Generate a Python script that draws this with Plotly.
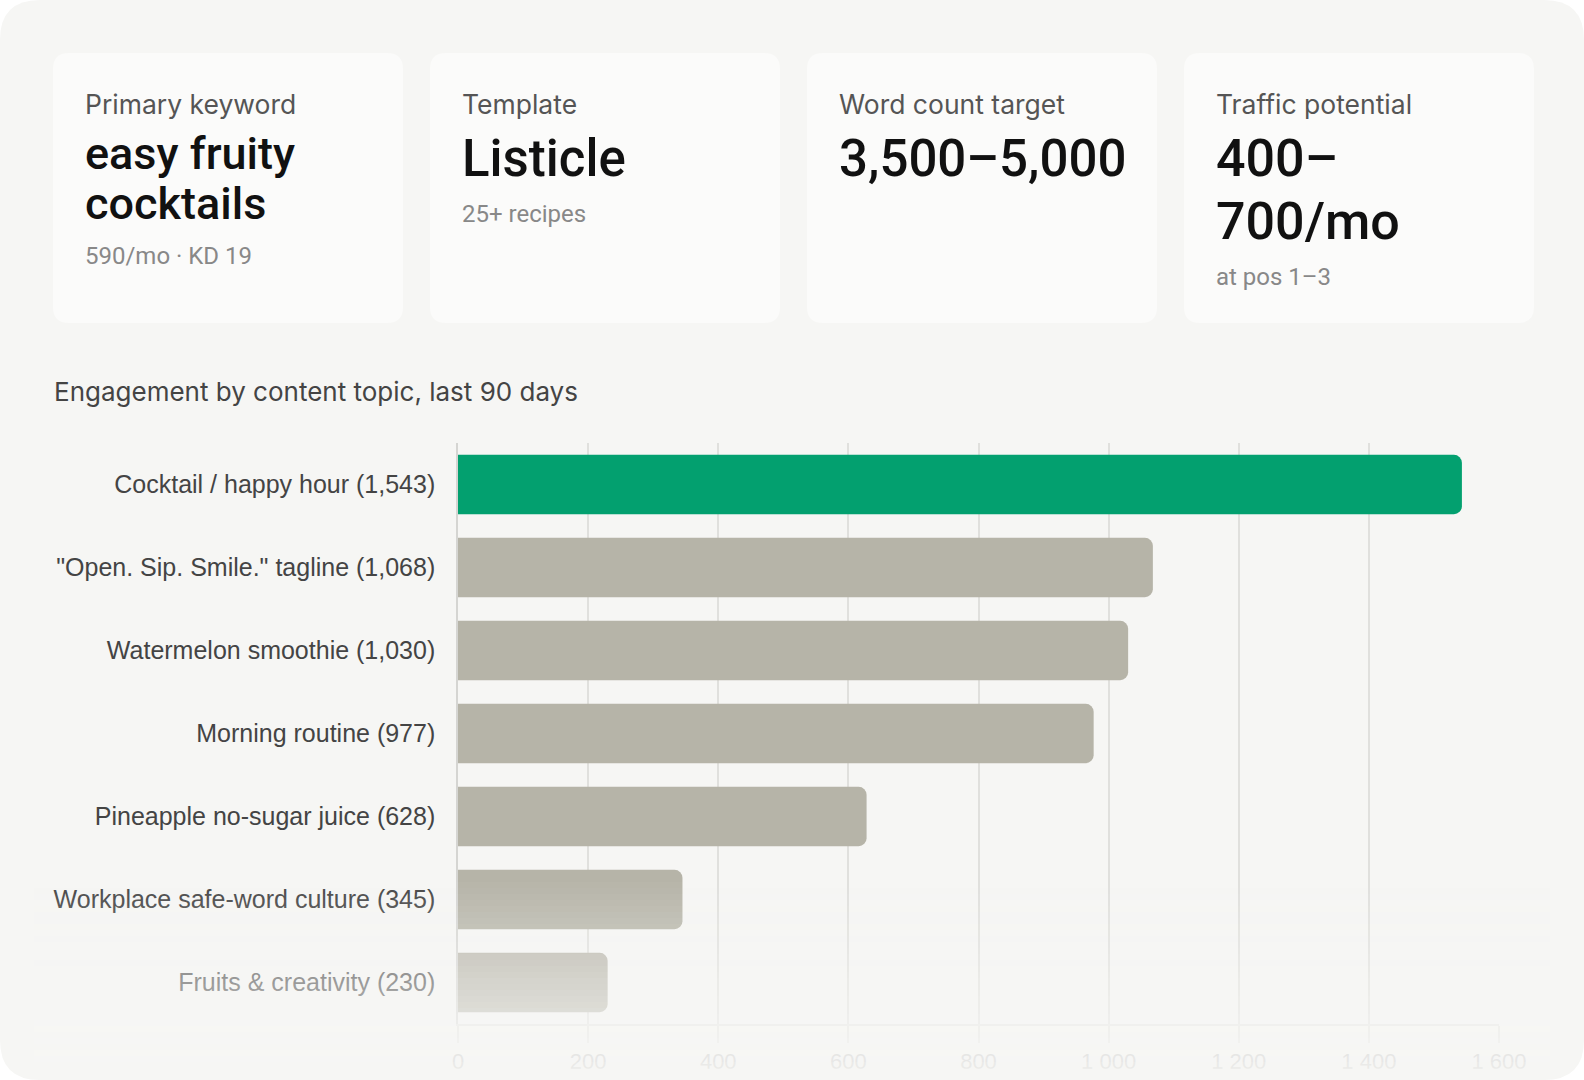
import plotly.graph_objects as go

# data
topics = ["Cocktail / happy hour", "\"Open. Sip. Smile.\" tagline", "Watermelon smoothie",
          "Morning routine", "Pineapple no-sugar juice", "Workplace safe-word culture",
          "Fruits & creativity"]
engagement = [1543, 1068, 1030, 977, 628, 345, 230]
x_ticks = [0, 200, 400, 600, 800, 1000, 1200, 1400, 1600]

card_labels = ["Primary keyword", "Template", "Word count target", "Traffic potential"]
card_values = [["easy fruity", "cocktails"], ["Listicle"], ["3,500–5,000"], ["400–", "700/mo"]]
card_notes = ["590/mo · KD 19", "25+ recipes", "", "at pos 1–3"]

W, H = 1584, 1080
ML, MR, MT, MB = 458, 85, 443, 56
PW, PH = W - ML - MR, H - MT - MB


def X(px):
    return (px - ML) / PW


def Y(py):
    return (H - MB - py) / PH


def rrect(x0, y0, x1, y1, r):
    return (f"M {X(x0 + r)},{Y(y0)} L {X(x1 - r)},{Y(y0)} Q {X(x1)},{Y(y0)} {X(x1)},{Y(y0 + r)} "
            f"L {X(x1)},{Y(y1 - r)} Q {X(x1)},{Y(y1)} {X(x1 - r)},{Y(y1)} "
            f"L {X(x0 + r)},{Y(y1)} Q {X(x0)},{Y(y1)} {X(x0)},{Y(y1 - r)} "
            f"L {X(x0)},{Y(y0 + r)} Q {X(x0)},{Y(y0)} {X(x0 + r)},{Y(y0)} Z")


labels = [f"{t} ({v:,})" for t, v in zip(topics, engagement)]
colors = ["#03a06f"] + ["#b6b4a8"] * (len(topics) - 1)

fig = go.Figure(go.Bar(
    x=engagement, y=labels, orientation="h",
    marker=dict(color=colors, line=dict(width=0), cornerradius=8),
    width=0.716, hoverinfo="skip",
))

shapes = []
# outer panel and cards
shapes.append(dict(type="path", path=rrect(0, 0, 1584, 1080, 40), xref="paper", yref="paper",
                   fillcolor="#f6f6f4", line=dict(width=0), layer="below"))
card_x = [53, 430, 807, 1184]
for cx in card_x:
    shapes.append(dict(type="path", path=rrect(cx, 53, cx + 350, 323, 16), xref="paper", yref="paper",
                       fillcolor="#fbfbfa", line=dict(width=0), layer="below"))

# bottom fade
y = 876
while y < 1074:
    a = min(0.9, 0.1 + (y + 3 - 900) * 0.0047)
    if a > 0:
        shapes.append(dict(type="rect", xref="paper", yref="paper",
                           x0=X(34), x1=X(1550), y0=Y(y + 6), y1=Y(y),
                           fillcolor=f"rgba(246,246,244,{a:.3f})", line=dict(width=0), layer="above"))
    y += 6

ann = []


def note(px, py, text, size, color, weight=400, family="Roboto"):
    ann.append(dict(x=X(px), y=Y(py), xref="paper", yref="paper", text=text, showarrow=False,
                    xanchor="left", yanchor="middle",
                    font=dict(family=family, size=size, color=color, weight=weight)))


for i, cx in enumerate(card_x):
    tx = cx + 30
    note(tx, 104, card_labels[i], 26.5, "#555555", family="Inter")
    vals = card_values[i]
    if i == 0:
        note(tx, 153, vals[0], 45, "#111111", 500)
        note(tx, 204, vals[1], 45, "#111111", 500)
        note(tx, 256, card_notes[i], 24, "#888888")
    elif i == 3:
        note(tx, 158, vals[0], 52, "#111111", 500)
        note(tx, 221, vals[1], 52, "#111111", 500)
        note(tx, 277, card_notes[i], 24, "#888888")
    else:
        note(tx, 158, vals[0], 51, "#111111", 500)
        if card_notes[i]:
            note(tx, 214, card_notes[i], 24, "#888888")

note(52, 391, "Engagement by content topic, last 90 days", 26, "#444444", family="Inter")

n = len(topics)
fig.update_layout(
    width=W, height=H,
    margin=dict(l=ML, r=MR, t=MT, b=MB),
    paper_bgcolor="#ffffff", plot_bgcolor="rgba(0,0,0,0)",
    separators=". ",
    showlegend=False,
    shapes=shapes, annotations=ann,
    xaxis=dict(range=[0, 1600], tickvals=x_ticks, tickformat=",", showgrid=True,
               gridcolor="#e0e0dd", gridwidth=1.5, automargin=False,
               zeroline=False, showline=True, linecolor="#e3e3e0", linewidth=1.5,
               ticks="outside", ticklen=17, tickwidth=1.5, tickcolor="#e0e0dd",
               tickfont=dict(family="Liberation Sans", size=22, color="#999999"), fixedrange=True),
    yaxis=dict(categoryorder="array", categoryarray=labels, range=[n - 0.5, -0.5], autorange=False,
               showgrid=False, zeroline=False, showline=True, linecolor="#d5d5d2", linewidth=1.5,
               ticks="", ticklabelstandoff=16, automargin=False,
               tickfont=dict(family="Liberation Sans", size=25, color="#444444"), fixedrange=True),
)

fig.write_html("out.html", config={"displayModeBar": False},
               post_script="document.body.style.margin='0';")
